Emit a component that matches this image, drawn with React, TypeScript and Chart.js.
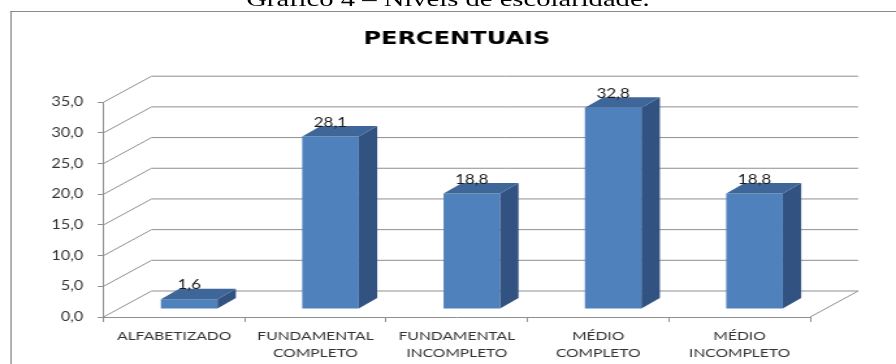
import React, { useEffect, useRef } from 'react';
import { Chart, registerables } from 'chart.js';

Chart.register(...registerables);

// ---- data ----
const caption = 'Gráfico 4 – Níveis de escolaridade.';
const chartTitle = 'PERCENTUAIS';
const categories: (string | string[])[] = [
  'ALFABETIZADO',
  ['FUNDAMENTAL', 'COMPLETO'],
  ['FUNDAMENTAL', 'INCOMPLETO'],
  ['MÉDIO', 'COMPLETO'],
  ['MÉDIO', 'INCOMPLETO'],
];
const percentuais = [1.6, 28.1, 18.8, 32.8, 18.8];
const yTicks = [0, 5, 10, 15, 20, 25, 30, 35];

// ---- layout / style ----
const W = 689;
const H = 364;
const S = 896 / W;
const DEPTH_X = 36.9;
const DEPTH_Y = -26;
const BAR_FRONT_X = 11.5;
const BAR_FRONT_Y = -8;
const BAR_DEPTH_X = 14.2;
const BAR_DEPTH_Y = -10.5;
const GRID = '#8f8f8f';
const FRONT = '#4F81BD';
const SIDE = '#325382';
const TOP = '#3E6699';
const TEXT = '#333333';

const fmt = (v: number) => v.toFixed(1).replace('.', ',');

const threeD = {
  id: 'threeD',
  beforeDatasetsDraw(chart: any) {
    const { ctx, chartArea, scales } = chart;
    const { left, right, bottom } = chartArea;
    const y = scales.y;
    ctx.save();
    ctx.strokeStyle = GRID;
    ctx.lineWidth = 1;
    for (const v of yTicks) {
      const py = y.getPixelForValue(v);
      ctx.beginPath();
      ctx.moveTo(left, py);
      ctx.lineTo(left + DEPTH_X, py + DEPTH_Y);
      ctx.lineTo(right + DEPTH_X, py + DEPTH_Y);
      ctx.stroke();
    }
    ctx.beginPath();
    ctx.moveTo(right, bottom);
    ctx.lineTo(right + DEPTH_X, bottom + DEPTH_Y);
    ctx.stroke();
    ctx.restore();
    ctx.save();
    ctx.translate(BAR_FRONT_X, BAR_FRONT_Y);
  },
  afterDatasetsDraw(chart: any) {
    const { ctx } = chart;
    ctx.restore();
    const meta = chart.getDatasetMeta(0);
    const data = chart.data.datasets[0].data as number[];
    meta.data.forEach((bar: any, i: number) => {
      const { x, y, base, width } = bar.getProps(['x', 'y', 'base', 'width'], true);
      const l = x - width / 2 + BAR_FRONT_X;
      const r = x + width / 2 + BAR_FRONT_X;
      const t = y + BAR_FRONT_Y;
      const b = base + BAR_FRONT_Y;
      ctx.save();
      // side face
      ctx.fillStyle = SIDE;
      ctx.beginPath();
      ctx.moveTo(r, t);
      ctx.lineTo(r + BAR_DEPTH_X, t + BAR_DEPTH_Y);
      ctx.lineTo(r + BAR_DEPTH_X, b + BAR_DEPTH_Y);
      ctx.lineTo(r, b);
      ctx.closePath();
      ctx.fill();
      // top face
      ctx.fillStyle = TOP;
      ctx.beginPath();
      ctx.moveTo(l, t);
      ctx.lineTo(l + BAR_DEPTH_X, t + BAR_DEPTH_Y);
      ctx.lineTo(r + BAR_DEPTH_X, t + BAR_DEPTH_Y);
      ctx.lineTo(r, t);
      ctx.closePath();
      ctx.fill();
      // value label
      ctx.fillStyle = '#1a1a1a';
      ctx.font = '13px Lato';
      ctx.textAlign = 'center';
      ctx.textBaseline = 'middle';
      ctx.fillText(fmt(data[i]), (l + r) / 2, t - 14);
      ctx.restore();
    });
  },
};

export default function App() {
  const canvasRef = useRef<HTMLCanvasElement | null>(null);

  useEffect(() => {
    const canvas = canvasRef.current;
    if (!canvas) return;
    const chart = new Chart(canvas, {
      type: 'bar',
      data: {
        labels: categories,
        datasets: [
          {
            label: chartTitle,
            data: percentuais,
            backgroundColor: FRONT,
            borderWidth: 0,
            barPercentage: 0.4,
            categoryPercentage: 1.0,
            clip: false as any,
          },
        ],
      },
      options: {
        responsive: false,
        maintainAspectRatio: false,
        animation: false,
        events: [],
        layout: { padding: { left: 0, right: 66, top: 0, bottom: 0 } },
        plugins: {
          legend: { display: false },
          tooltip: { enabled: false },
          title: {
            display: true,
            text: chartTitle,
            fullSize: false,
            color: '#000000',
            font: { family: 'DejaVu Sans', size: 18.5, weight: 'bold' },
            padding: { top: 28, bottom: 52 },
          },
        },
        scales: {
          x: {
            afterFit(scale: any) {
              scale.height = 47;
            },
            grid: {
              display: true,
              drawOnChartArea: false,
              drawTicks: true,
              tickLength: 5,
              color: GRID,
              offset: true,
            },
            border: { display: true, color: GRID, width: 1 },
            ticks: {
              color: TEXT,
              padding: 5.6,
              maxRotation: 0,
              autoSkip: false,
              font: { family: 'Lato', size: 12, lineHeight: 1.4 },
            },
          },
          y: {
            min: 0,
            max: 35,
            afterFit(scale: any) {
              scale.width = 79.6;
            },
            grid: {
              display: true,
              drawOnChartArea: false,
              drawTicks: true,
              tickLength: 4.5,
              color: GRID,
            },
            border: { display: true, color: GRID, width: 1 },
            ticks: {
              stepSize: 5,
              color: TEXT,
              padding: 11,
              font: { family: 'Lato', size: 12.5 },
              callback: (v: any) => fmt(Number(v)),
            },
          },
        },
      },
      plugins: [threeD],
    });
    return () => chart.destroy();
  }, []);

  return (
    <div
      style={{
        position: 'absolute',
        left: 0,
        top: 0,
        width: 896,
        height: H,
        overflow: 'hidden',
        background: '#ffffff',
      }}
    >
      <div
        style={{
          position: 'absolute',
          left: 0,
          top: 0,
          width: W,
          height: H,
          transform: `scaleX(${S})`,
          transformOrigin: '0 0',
        }}
      >
        <div
          style={{
            position: 'absolute',
            left: 0,
            top: -12,
            width: W,
            textAlign: 'center',
            fontFamily: '"Liberation Serif", serif',
            fontSize: 22,
            lineHeight: '22px',
            color: '#000',
            whiteSpace: 'nowrap',
          }}
        >
          {caption}
        </div>
        <div
          style={{
            position: 'absolute',
            left: 7.7,
            top: 11,
            width: 2000,
            height: 1000,
            borderTop: '1.5px solid #8a8a8a',
            borderLeft: '1px solid #8a8a8a',
          }}
        />
        <canvas
          ref={canvasRef}
          width={W}
          height={H}
          style={{ position: 'absolute', left: 0, top: 0, width: W, height: H }}
        />
      </div>
    </div>
  );
}
